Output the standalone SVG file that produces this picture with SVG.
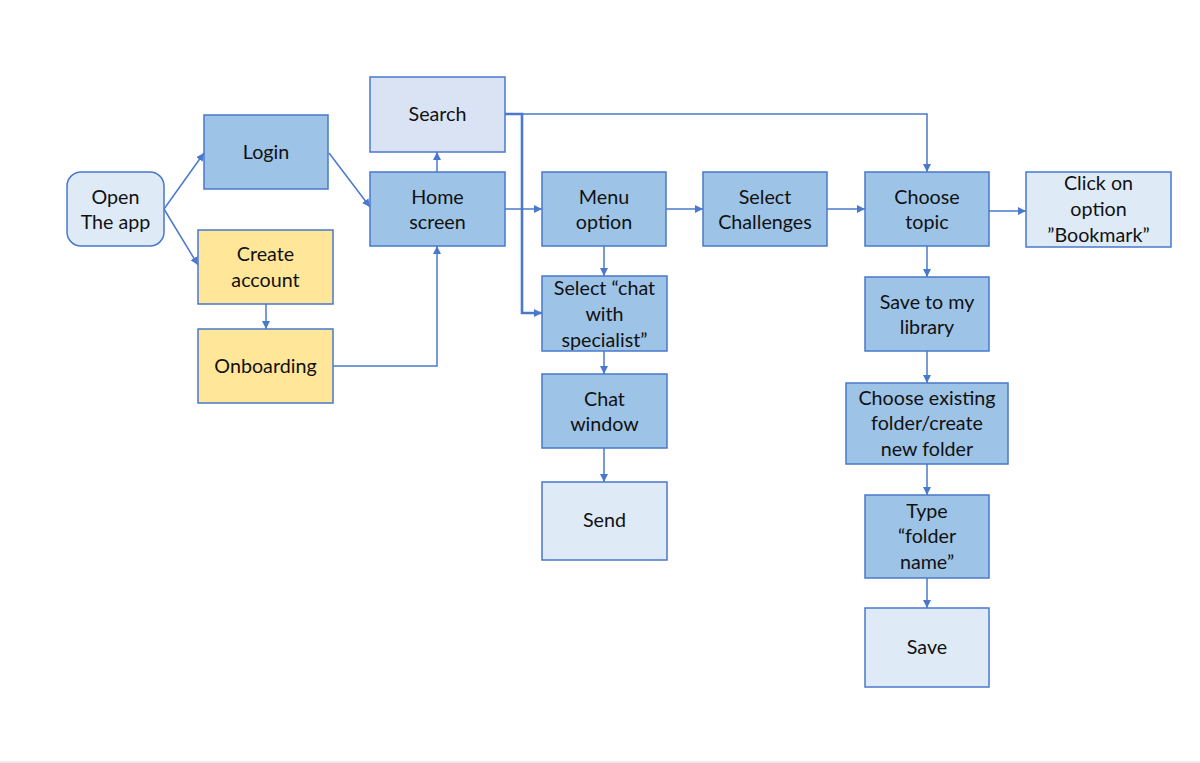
<svg xmlns="http://www.w3.org/2000/svg" width="1200" height="763" viewBox="0 0 1200 763">
<style>
.n{stroke:#4a78cc;stroke-width:1.5}
.d{fill:#9dc3e6}
.l{fill:#deebf7}
.s{fill:#dae3f3}
.y{fill:#ffe699}
text{font-family:Lato,"Open Sans","Liberation Sans",sans-serif;font-size:19.7px;fill:#111;text-anchor:middle}
.c{fill:none;stroke:#4a78cc;stroke-width:1.5}
.t{stroke-width:2.6}
</style>
<defs>
<marker id="a" markerUnits="userSpaceOnUse" markerWidth="9" markerHeight="8" refX="8" refY="4" orient="auto"><path d="M0,0 L8,4 L0,8 Z" fill="#4a78cc"/></marker>
</defs>
<rect width="1200" height="763" fill="#fff"/>
<line x1="0" y1="762" x2="1200" y2="762" stroke="#e6e6e6" stroke-width="1.5"/>
<g id="connectors">
<path class="c" d="M164,209 L204,153" marker-end="url(#a)"/>
<path class="c" d="M164,209 L198,265" marker-end="url(#a)"/>
<path class="c" d="M329,153 L370,207" marker-end="url(#a)"/>
<path class="c" d="M437,172 L437,152" marker-end="url(#a)"/>
<path class="c" d="M266,304 L266,329" marker-end="url(#a)"/>
<path class="c" d="M333,366 L437,366 L437,246" marker-end="url(#a)"/>
<path class="c" d="M505,209 L542,209" marker-end="url(#a)"/>
<path class="c" d="M505,114 L927,114 L927,172" marker-end="url(#a)"/>
<path class="c t" d="M505,114 L522,114 L522,313 L542,313" marker-end="url(#a)"/>
<path class="c" d="M604,246 L604,276" marker-end="url(#a)"/>
<path class="c" d="M604,351 L604,374" marker-end="url(#a)"/>
<path class="c" d="M604,448 L604,482" marker-end="url(#a)"/>
<path class="c" d="M666,209 L703,209" marker-end="url(#a)"/>
<path class="c" d="M827,209 L865,209" marker-end="url(#a)"/>
<path class="c" d="M989,211 L1026,211" marker-end="url(#a)"/>
<path class="c" d="M927,246 L927,277" marker-end="url(#a)"/>
<path class="c" d="M927,351 L927,383" marker-end="url(#a)"/>
<path class="c" d="M927,464 L927,495" marker-end="url(#a)"/>
<path class="c" d="M927,578 L927,608" marker-end="url(#a)"/>
</g>
<g id="open"><rect class="n l" x="67" y="172" width="97" height="74" rx="14"/><text x="115.5" y="203.5">Open</text><text x="115.5" y="229">The app</text></g>
<g id="login"><rect class="n d" x="204" y="115" width="124" height="74"/><text x="266" y="158.5">Login</text></g>
<g id="create"><rect class="n y" x="198" y="230" width="135" height="74"/><text x="265.5" y="260.5">Create</text><text x="265.5" y="287">account</text></g>
<g id="onboarding"><rect class="n y" x="198" y="329" width="135" height="74"/><text x="265.5" y="372.5">Onboarding</text></g>
<g id="search"><rect class="n s" x="370" y="77" width="135" height="75"/><text x="437.5" y="120.5">Search</text></g>
<g id="home"><rect class="n d" x="370" y="172" width="135" height="74"/><text x="437.5" y="203.5">Home</text><text x="437.5" y="229">screen</text></g>
<g id="menu"><rect class="n d" x="542" y="172" width="124" height="74"/><text x="604" y="203.5">Menu</text><text x="604" y="229">option</text></g>
<g id="chat"><rect class="n d" x="542" y="276" width="125" height="75"/><text x="604.5" y="294.5">Select “chat</text><text x="604.5" y="321">with</text><text x="604.5" y="346.5">specialist”</text></g>
<g id="chatwin"><rect class="n d" x="542" y="374" width="125" height="74"/><text x="604.5" y="405.5">Chat</text><text x="604.5" y="431">window</text></g>
<g id="send"><rect class="n l" x="542" y="482" width="125" height="78"/><text x="604.5" y="526.5">Send</text></g>
<g id="challenges"><rect class="n d" x="703" y="172" width="124" height="74"/><text x="765" y="203.5">Select</text><text x="765" y="229">Challenges</text></g>
<g id="topic"><rect class="n d" x="865" y="172" width="124" height="74"/><text x="927" y="203.5">Choose</text><text x="927" y="229">topic</text></g>
<g id="bookmark"><rect class="n l" x="1026" y="172" width="145" height="75"/><text x="1098.5" y="189.5">Click on</text><text x="1098.5" y="215.5">option</text><text x="1098.5" y="241.5">”Bookmark”</text></g>
<g id="library"><rect class="n d" x="865" y="277" width="124" height="74"/><text x="927" y="308.5">Save to my</text><text x="927" y="334">library</text></g>
<g id="folder"><rect class="n d" x="846" y="383" width="162" height="81"/><text x="927" y="404.5">Choose existing</text><text x="927" y="430">folder/create</text><text x="927" y="455.5">new folder</text></g>
<g id="type"><rect class="n d" x="865" y="495" width="124" height="83"/><text x="927" y="517.5">Type</text><text x="927" y="543">“folder</text><text x="927" y="568.5">name”</text></g>
<g id="save"><rect class="n l" x="865" y="608" width="124" height="79"/><text x="927" y="653.5">Save</text></g>
</svg>
